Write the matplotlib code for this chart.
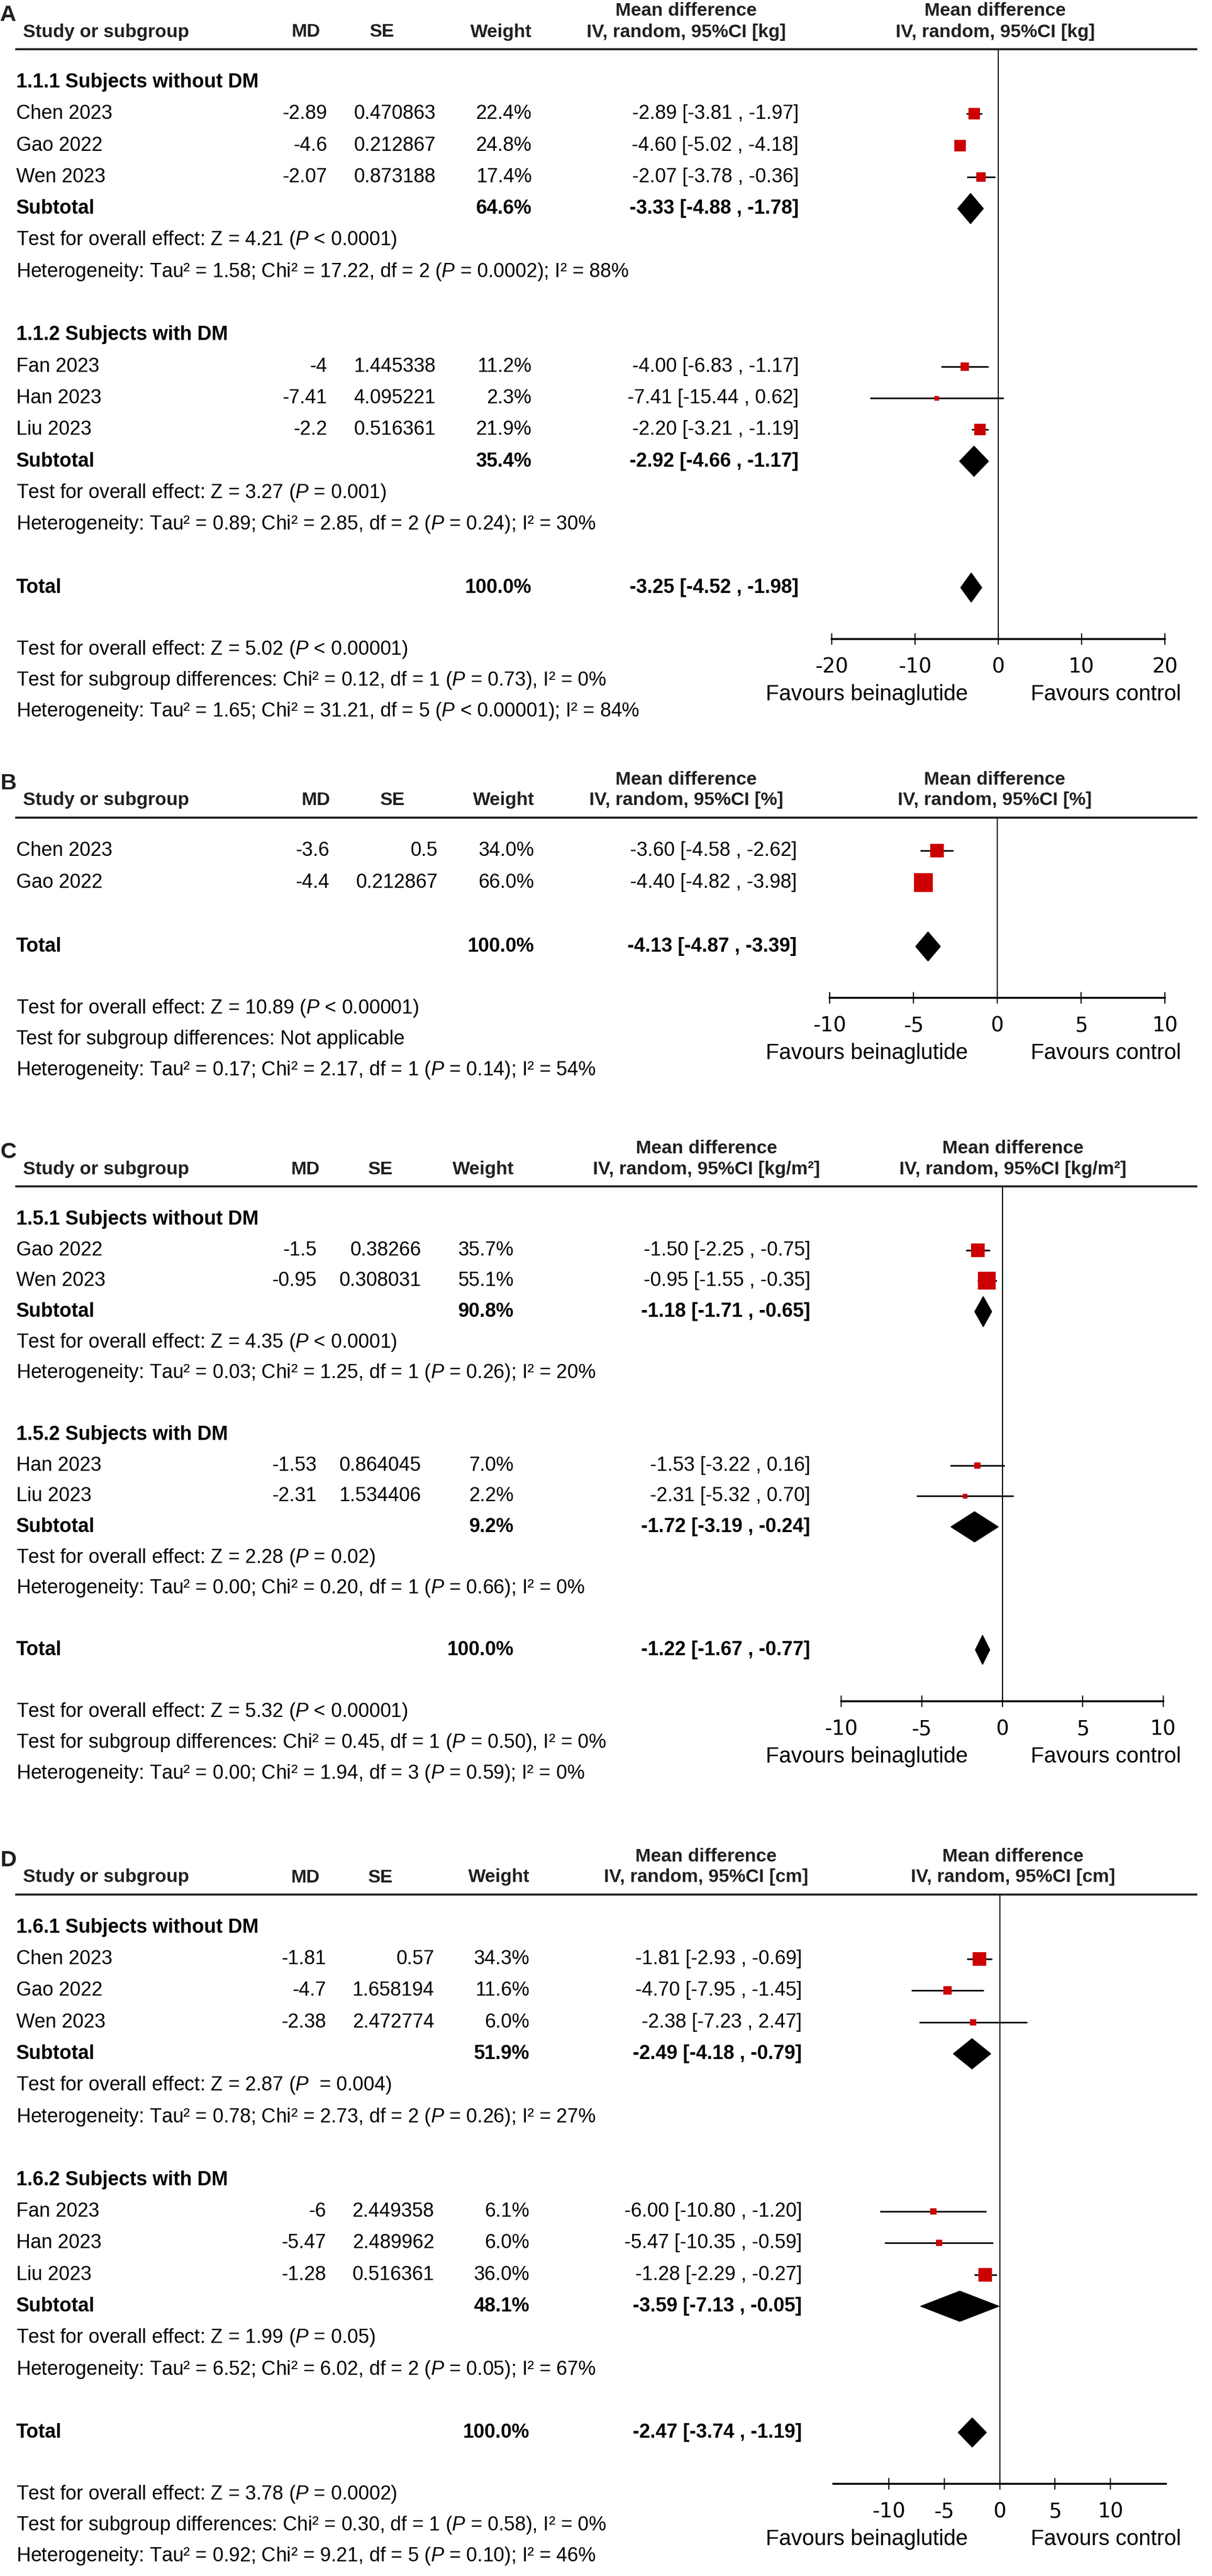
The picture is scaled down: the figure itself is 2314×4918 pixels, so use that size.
import numpy as np
import matplotlib
matplotlib.use("Agg")
import matplotlib.pyplot as plt

W, H = 2314, 4918
plt.rcParams['font.family'] = ['Liberation Sans', 'DejaVu Sans']
plt.rcParams['mathtext.fontset'] = 'custom'
plt.rcParams['mathtext.it'] = 'Liberation Sans:italic'
plt.rcParams['mathtext.rm'] = 'Liberation Sans'
plt.rcParams['mathtext.bf'] = 'Liberation Sans:bold'

P = "$\\mathit{P}$"

# ---- panel A : body weight [kg]
a_study = ["Chen 2023", "Gao 2022", "Wen 2023", "Fan 2023", "Han 2023", "Liu 2023"]
a_grp = [0, 0, 0, 1, 1, 1]
a_md = [-2.89, -4.6, -2.07, -4, -7.41, -2.2]
a_se = [0.470863, 0.212867, 0.873188, 1.445338, 4.095221, 0.516361]
a_w = [22.4, 24.8, 17.4, 11.2, 2.3, 21.9]
a_lo = [-3.81, -5.02, -3.78, -6.83, -15.44, -3.21]
a_hi = [-1.97, -4.18, -0.36, -1.17, 0.62, -1.19]
a_sub = ["1.1.1 Subjects without DM", "1.1.2 Subjects with DM"]
a_sub_w = [64.6, 35.4]
a_sub_md = [-3.33, -2.92]
a_sub_lo = [-4.88, -4.66]
a_sub_hi = [-1.78, -1.17]
a_sub_z = ["Z = 4.21 (" + P + " < 0.0001)", "Z = 3.27 (" + P + " = 0.001)"]
a_sub_het = ["Tau² = 1.58; Chi² = 17.22, df = 2 (" + P + " = 0.0002); I² = 88%",
             "Tau² = 0.89; Chi² = 2.85, df = 2 (" + P + " = 0.24); I² = 30%"]
a_tot = [-3.25, -4.52, -1.98]
a_foot = ["Test for overall effect: Z = 5.02 (" + P + " < 0.00001)",
          "Test for subgroup differences: Chi² = 0.12, df = 1 (" + P + " = 0.73), I² = 0%",
          "Heterogeneity: Tau² = 1.65; Chi² = 31.21, df = 5 (" + P + " < 0.00001); I² = 84%"]
a_ticks = [-20, -10, 0, 10, 20]

# ---- panel B : [%]
b_study = ["Chen 2023", "Gao 2022"]
b_md = [-3.6, -4.4]
b_se = [0.5, 0.212867]
b_w = [34.0, 66.0]
b_lo = [-4.58, -4.82]
b_hi = [-2.62, -3.98]
b_tot = [-4.13, -4.87, -3.39]
b_foot = ["Test for overall effect: Z = 10.89 (" + P + " < 0.00001)",
          "Test for subgroup differences: Not applicable",
          "Heterogeneity: Tau² = 0.17; Chi² = 2.17, df = 1 (" + P + " = 0.14); I² = 54%"]
b_ticks = [-10, -5, 0, 5, 10]

# ---- panel C : BMI [kg/m2]
c_study = ["Gao 2022", "Wen 2023", "Han 2023", "Liu 2023"]
c_grp = [0, 0, 1, 1]
c_md = [-1.5, -0.95, -1.53, -2.31]
c_se = [0.38266, 0.308031, 0.864045, 1.534406]
c_w = [35.7, 55.1, 7.0, 2.2]
c_lo = [-2.25, -1.55, -3.22, -5.32]
c_hi = [-0.75, -0.35, 0.16, 0.70]
c_sub = ["1.5.1 Subjects without DM", "1.5.2 Subjects with DM"]
c_sub_w = [90.8, 9.2]
c_sub_md = [-1.18, -1.72]
c_sub_lo = [-1.71, -3.19]
c_sub_hi = [-0.65, -0.24]
c_sub_z = ["Z = 4.35 (" + P + " < 0.0001)", "Z = 2.28 (" + P + " = 0.02)"]
c_sub_het = ["Tau² = 0.03; Chi² = 1.25, df = 1 (" + P + " = 0.26); I² = 20%",
             "Tau² = 0.00; Chi² = 0.20, df = 1 (" + P + " = 0.66); I² = 0%"]
c_tot = [-1.22, -1.67, -0.77]
c_foot = ["Test for overall effect: Z = 5.32 (" + P + " < 0.00001)",
          "Test for subgroup differences: Chi² = 0.45, df = 1 (" + P + " = 0.50), I² = 0%",
          "Heterogeneity: Tau² = 0.00; Chi² = 1.94, df = 3 (" + P + " = 0.59); I² = 0%"]
c_ticks = [-10, -5, 0, 5, 10]

# ---- panel D : waist [cm]
d_study = ["Chen 2023", "Gao 2022", "Wen 2023", "Fan 2023", "Han 2023", "Liu 2023"]
d_grp = [0, 0, 0, 1, 1, 1]
d_md = [-1.81, -4.7, -2.38, -6, -5.47, -1.28]
d_se = [0.57, 1.658194, 2.472774, 2.449358, 2.489962, 0.516361]
d_w = [34.3, 11.6, 6.0, 6.1, 6.0, 36.0]
d_lo = [-2.93, -7.95, -7.23, -10.80, -10.35, -2.29]
d_hi = [-0.69, -1.45, 2.47, -1.20, -0.59, -0.27]
d_sub = ["1.6.1 Subjects without DM", "1.6.2 Subjects with DM"]
d_sub_w = [51.9, 48.1]
d_sub_md = [-2.49, -3.59]
d_sub_lo = [-4.18, -7.13]
d_sub_hi = [-0.79, -0.05]
d_sub_z = ["Z = 2.87 (" + P + "  = 0.004)", "Z = 1.99 (" + P + " = 0.05)"]
d_sub_het = ["Tau² = 0.78; Chi² = 2.73, df = 2 (" + P + " = 0.26); I² = 27%",
             "Tau² = 6.52; Chi² = 6.02, df = 2 (" + P + " = 0.05); I² = 67%"]
d_tot = [-2.47, -3.74, -1.19]
d_foot = ["Test for overall effect: Z = 3.78 (" + P + " = 0.0002)",
          "Test for subgroup differences: Chi² = 0.30, df = 1 (" + P + " = 0.58), I² = 0%",
          "Heterogeneity: Tau² = 0.92; Chi² = 9.21, df = 5 (" + P + " = 0.10); I² = 46%"]
d_ticks = [-10, -5, 0, 5, 10]

BODY = 27
HEAD = 25.5
HCOL = '#231f20'
RED = '#cc0000'

fig = plt.figure(figsize=(W / 100, H / 100), dpi=100)


def put(x, y, s, ha='left', bold=False, size=BODY, color='black'):
    fig.text(x / W, 1 - y / H, s, ha=ha, va='center', fontsize=size,
             fontweight='bold' if bold else 'normal', color=color)


def ci(md, lo, hi):
    return f"{md:.2f} [{lo:.2f} , {hi:.2f}]"


def panel(letter, line_y, step, unit, cols, xr, ax_px, ticks, study, md, se, w, lo, hi, tot, foot,
          grp=None, sub=None, sub_w=None, sub_md=None, sub_lo=None, sub_hi=None, sub_z=None, sub_het=None):
    md_x, se_x, w_x, ci_x, md_hc, se_hc, ci_hc, pl_hc = cols
    h2 = line_y - 33
    h1 = h2 - 40
    put(0, h2 - 32, letter, bold=True, size=31, color=HCOL)
    put(44, h2, "Study or subgroup", bold=True, size=HEAD, color=HCOL)
    put(md_hc, h2, "MD", ha='center', bold=True, size=HEAD, color=HCOL)
    put(se_hc, h2, "SE", ha='center', bold=True, size=HEAD, color=HCOL)
    put(w_x, h2, "Weight", ha='right', bold=True, size=HEAD, color=HCOL)
    for cx in (ci_hc, pl_hc):
        put(cx, h1, "Mean difference", ha='center', bold=True, size=HEAD, color=HCOL)
        put(cx, h2, f"IV, random, 95%CI [{unit}]", ha='center', bold=True, size=HEAD, color=HCOL)
    fig.add_artist(plt.Line2D([31 / W, 2284 / W], [1 - line_y / H] * 2, color='#231f20', lw=2.8))

    # row layout
    rows = []
    y = line_y + 63
    if grp is None:
        for i in range(len(study)):
            rows.append(('study', i, y)); y += step
        y += step
    else:
        for g in range(len(sub)):
            rows.append(('sub', g, y)); y += step
            for i in range(len(study)):
                if grp[i] == g:
                    rows.append(('study', i, y)); y += step
            rows.append(('subtotal', g, y)); y += step
            rows.append(('z', g, y)); y += step
            rows.append(('het', g, y)); y += step
            y += step
    tot_y = y
    axis_y = tot_y + 98

    ax = fig.add_axes([ax_px[0] / W, 1 - axis_y / H, (ax_px[1] - ax_px[0]) / W, (axis_y - line_y) / H])
    ax.set_xlim(xr)
    ax.set_ylim(axis_y, line_y)
    for s in ('left', 'right', 'top'):
        ax.spines[s].set_visible(False)
    ax.spines['bottom'].set_linewidth(2.6)
    ax.set_yticks([])
    ax.set_xticks(ticks)
    ax.set_xticklabels([str(t) for t in ticks], fontfamily='DejaVu Sans', fontsize=28)
    ax.tick_params(axis='x', direction='inout', length=16, width=1.6, pad=17)
    ax.patch.set_alpha(0)
    ax.axvline(0, color='black', lw=1.5, zorder=1)

    for kind, i, y in rows:
        if kind == 'study':
            put(31, y, study[i])
            put(md_x, y, str(md[i]), ha='right')
            put(se_x, y, str(se[i]), ha='right')
            put(w_x, y, f"{w[i]:.1f}%", ha='right')
            put(ci_x, y, ci(md[i], lo[i], hi[i]), ha='right')
            ax.hlines(y, lo[i], hi[i], color='black', lw=2.2, zorder=2, clip_on=False)
            side = max(4.5 * np.sqrt(w[i]), 9) * 0.72
            ax.scatter([md[i]], [y], marker='s', s=side ** 2, color=RED, linewidths=0,
                       zorder=3, clip_on=False)
        elif kind == 'sub':
            put(31, y, sub[i], bold=True)
        elif kind == 'subtotal':
            put(31, y, "Subtotal", bold=True)
            put(w_x, y, f"{sub_w[i]:.1f}%", ha='right', bold=True)
            put(ci_x, y, ci(sub_md[i], sub_lo[i], sub_hi[i]), ha='right', bold=True)
            ax.fill([sub_lo[i], sub_md[i], sub_hi[i], sub_md[i]], [y, y - 29, y, y + 29],
                    color='black', zorder=3, clip_on=False)
        elif kind == 'z':
            put(31, y, "Test for overall effect: " + sub_z[i])
        elif kind == 'het':
            put(31, y, "Heterogeneity: " + sub_het[i])

    put(31, tot_y, "Total", bold=True)
    put(w_x, tot_y, "100.0%", ha='right', bold=True)
    put(ci_x, tot_y, ci(*tot), ha='right', bold=True)
    ax.fill([tot[1], tot[0], tot[2], tot[0]], [tot_y, tot_y - 28, tot_y, tot_y + 28],
            color='black', zorder=3, clip_on=False)

    fy = tot_y + 118
    for k, s in enumerate(foot):
        put(31, fy + 59 * k, s)

    put(1848, axis_y + 106, "Favours beinaglutide", ha='right', size=30)
    put(1968, axis_y + 106, "Favours control", ha='left', size=30)


panel("A", 94, 60.3, "kg", (625, 832, 1015, 1525, 584, 729, 1310, 1900), (-20, 20), (1588, 2224),
      a_ticks, a_study, a_md, a_se, a_w, a_lo, a_hi, a_tot, a_foot,
      a_grp, a_sub, a_sub_w, a_sub_md, a_sub_lo, a_sub_hi, a_sub_z, a_sub_het)
panel("B", 1561, 61, "%", (629, 836, 1020, 1521, 603, 749, 1310, 1899), (-10, 10), (1584, 2224),
      b_ticks, b_study, b_md, b_se, b_w, b_lo, b_hi, b_tot, b_foot)
panel("C", 2265, 58.7, "kg/m²", (605, 804, 981, 1547, 583, 726, 1349, 1934), (-10, 10), (1606, 2221),
      c_ticks, c_study, c_md, c_se, c_w, c_lo, c_hi, c_tot, c_foot,
      c_grp, c_sub, c_sub_w, c_sub_md, c_sub_lo, c_sub_hi, c_sub_z, c_sub_het)
panel("D", 3617, 60.25, "cm", (623, 829, 1011, 1531, 583, 726, 1348, 1934), (-15, 15), (1591, 2226),
      d_ticks, d_study, d_md, d_se, d_w, d_lo, d_hi, d_tot, d_foot,
      d_grp, d_sub, d_sub_w, d_sub_md, d_sub_lo, d_sub_hi, d_sub_z, d_sub_het)

fig.savefig("out.png", dpi=100, facecolor='white')
